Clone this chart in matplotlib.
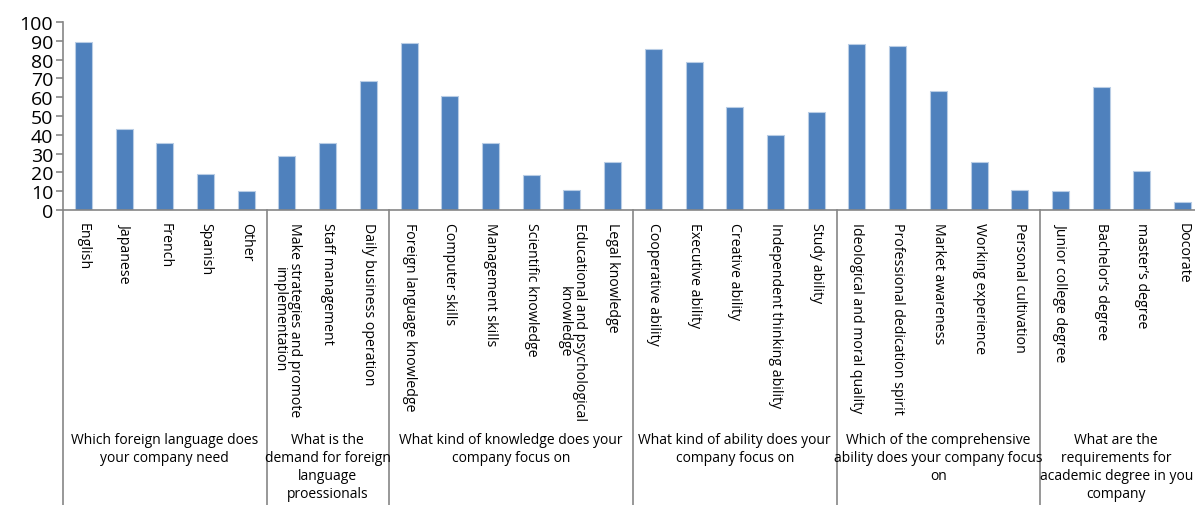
import matplotlib
matplotlib.use('Agg')
import matplotlib.pyplot as plt
import numpy as np
from matplotlib.transforms import offset_copy

plt.rcParams['font.family'] = ['Open Sans', 'DejaVu Sans']

# categories, grouped by survey question
group_titles = [
    'Which foreign language does\nyour company need',
    'What is the\ndemand for foreign\nlanguage\nproessionals',
    'What kind of knowledge does your\ncompany focus on',
    'What kind of ability does your\ncompany focus on',
    'Which of the comprehensive\nability does your company focus\non',
    'What are the\nrequirements for\nacademic degree in you\ncompany',
]
group_items = [
    ['English', 'Japanese', 'French', 'Spanish', 'Other'],
    ['Make strategies and promote\nimplementation', 'Staff management',
     'Daily business operation'],
    ['Foreign language knowledge', 'Computer skills', 'Management skills',
     'Scientific knowledge', 'Educational and psychological\nknowledge',
     'Legal knowledge'],
    ['Cooperative ability', 'Executive ability', 'Creative ability',
     'Independent thinking ability', 'Study ability'],
    ['Ideological and moral quality', 'Professional dedication spirit',
     'Market awareness', 'Working experience', 'Personal cultivation'],
    ['Junior college degree', 'Bachelor\u2019s degree', 'master\u2019s degree',
     'Docorate'],
]
values = [89.1, 43.3, 35.5, 18.9, 10.2,
          28.6, 35.9, 68.4,
          88.7, 60.6, 35.5, 18.6, 10.8, 25.4,
          85.5, 78.8, 54.6, 39.9, 52.3,
          88.5, 87.3, 63.4, 25.6, 10.8,
          10.1, 65.5, 20.7, 4.4]
y_ticks = list(range(0, 101, 10))

labels = [lab for items in group_items for lab in items]
sizes = [len(items) for items in group_items]
x = np.arange(len(labels))

W, H = 1195, 506
fig = plt.figure(figsize=(W / 100, H / 100), dpi=100)
ax = fig.add_axes([63 / W, (H - 211) / H, 1140 / W, 188 / H])

axis_col = '#868686'
ax.bar(x, values, width=0.42, color='#4F81BD', edgecolor='#B9CDE5', linewidth=0.8)

ax.set_xlim(-0.5, len(labels) - 0.5)
ax.set_ylim(0, 100)
ax.set_yticks(y_ticks)
ax.tick_params(axis='y', length=5, width=1.2, color=axis_col, labelsize=14, pad=2)
ax.set_xticks([])
for side in ['top', 'right']:
    ax.spines[side].set_visible(False)
for side in ['left', 'bottom']:
    ax.spines[side].set_color(axis_col)
    ax.spines[side].set_linewidth(1.2)

trans = ax.get_xaxis_transform()
bottom = -(H - 211) / 188 - 0.05

# group separators running down through the label area
edges = np.concatenate([[0], np.cumsum(sizes)]) - 0.5
for e in edges:
    ax.plot([e, e], [0, bottom], transform=trans, color=axis_col,
            lw=1.2, clip_on=False)

# category labels
for xi, lab in zip(x, labels):
    ax.text(xi, -12 / 188, lab, transform=trans, rotation=-90, ha='center',
            va='top', multialignment='center', fontsize=10.2, linespacing=1.0)

# group titles
renderer = fig.canvas.get_renderer()
for i, title in enumerate(group_titles):
    cx = (edges[i] + edges[i + 1]) / 2
    t = ax.text(cx, -(433 - 211) / 188, title, transform=trans, ha='center',
                va='top', multialignment='center', fontsize=10, linespacing=1.28)
    # last title overflows the right edge in the original; nudge it inside
    over = t.get_window_extent(renderer).x1 - (W - 2)
    if over > 0:
        t.set_transform(offset_copy(trans, fig=fig, x=-over, units='dots'))

fig.savefig('out.png', dpi=100)
